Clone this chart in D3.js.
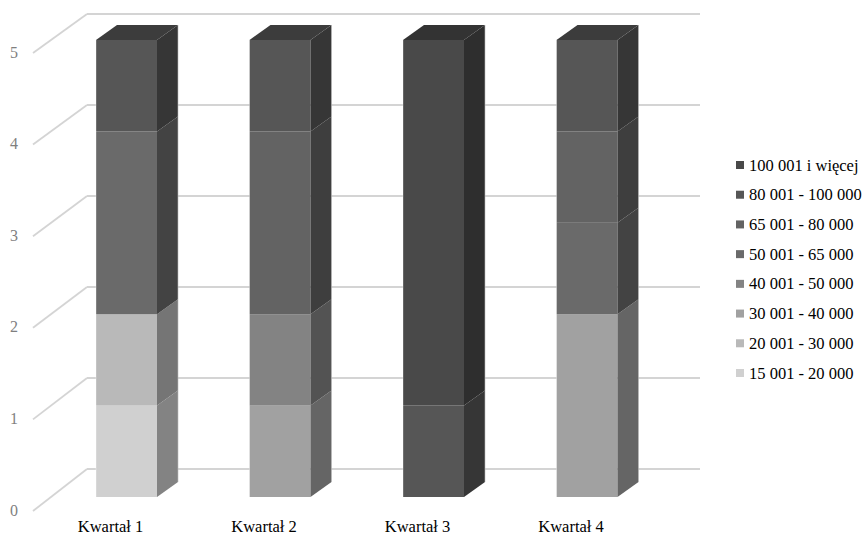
<!DOCTYPE html>
<html>
<head>
<meta charset="utf-8">
<script src="https://cdn.jsdelivr.net/npm/d3@7"></script>
<style>
  html, body { margin: 0; padding: 0; background: #fff; }
  svg { display: block; }
</style>
</head>
<body>
<svg id="chart" width="868" height="538"></svg>
<script>
// ---- data ----
const categories = ["Kwartał 1", "Kwartał 2", "Kwartał 3", "Kwartał 4"];
const seriesNames = ["15 001 - 20 000", "20 001 - 30 000", "30 001 - 40 000", "40 001 - 50 000",
                     "50 001 - 65 000", "65 001 - 80 000", "80 001 - 100 000", "100 001 i więcej"];
const s15 = [1, 0, 0, 0];
const s20 = [1, 0, 0, 0];
const s30 = [0, 1, 0, 2];
const s40 = [0, 1, 0, 0];
const s50 = [2, 0, 0, 1];
const s65 = [0, 2, 0, 1];
const s80 = [1, 1, 1, 1];
const s100 = [0, 0, 4, 0];
const seriesColors = ["#d0d0d0", "#b9b9b9", "#a1a1a1", "#838383", "#6a6a6a", "#636363", "#565656", "#494949"];
const yTicks = [0, 1, 2, 3, 4, 5];

const FONT = '"Liberation Serif", "Times New Roman", Tinos, serif';

const seriesValues = [s15, s20, s30, s40, s50, s65, s80, s100];
const rows = categories.map((c, i) => {
  const r = { cat: c };
  seriesNames.forEach((s, j) => r[s] = seriesValues[j][i]);
  return r;
});

const svg = d3.select("#chart");

// ---- scales ----
const x = d3.scaleBand().domain(categories).range([49.75, 663.75]).paddingInner(0.6026).paddingOuter(0.3013);
const yBar = d3.scaleLinear().domain([0, 5]).range([497, 40]);
const yBack = d3.scaleLinear().domain([0, 5]).range([469, 14]);
const yFront = d3.scaleLinear().domain([0, 5]).range([511, 53]);
const depthX = 21, depthY = 15;
const wallX0 = 33, wallX1 = 87, wallRight = 700;

// ---- gridlines (back wall + left side wall) ----
const grid = svg.append("g");
yTicks.forEach(t => {
  grid.append("line")
    .attr("x1", wallX1).attr("x2", wallRight)
    .attr("y1", yBack(t)).attr("y2", yBack(t))
    .attr("stroke", "#d4d4d4").attr("stroke-width", 1.8);
  grid.append("line")
    .attr("x1", wallX0).attr("y1", yFront(t))
    .attr("x2", wallX1).attr("y2", yBack(t))
    .attr("stroke", "#d4d4d4").attr("stroke-width", 1.8);
});

// ---- y tick labels ----
svg.append("g").selectAll("text").data(yTicks).join("text")
  .attr("x", 14).attr("y", d => yFront(d) - 1)
  .attr("text-anchor", "middle").attr("dominant-baseline", "central")
  .style("font-family", FONT).style("font-size", "16px").attr("fill", "#7f7f7f")
  .text(d => d);

// ---- stacked 3D bars ----
const stack = d3.stack().keys(seriesNames)(rows);
const shade = (c, k) => { const h = d3.color(c); return d3.rgb(h.r * k, h.g * k, h.b * k).formatHex(); };

const barsG = svg.append("g");
categories.forEach((cat, ci) => {
  const xl = x(cat), xr = x(cat) + x.bandwidth();
  let topSeg = null;
  stack.forEach((layer, si) => {
    const [v0, v1] = layer[ci];
    if (v1 - v0 <= 0) return;
    const col = seriesColors[si];
    const y0 = yBar(v0), y1 = yBar(v1);
    barsG.append("rect")
      .attr("x", xl).attr("y", y1).attr("width", xr - xl).attr("height", y0 - y1)
      .attr("fill", col);
    barsG.append("path")
      .attr("d", `M${xr},${y1}L${xr + depthX},${y1 - depthY}L${xr + depthX},${y0 - depthY}L${xr},${y0}Z`)
      .attr("fill", shade(col, 0.63));
    topSeg = { col, y1 };
  });
  if (topSeg) {
    barsG.append("path")
      .attr("d", `M${xl},${topSeg.y1}L${xl + depthX},${topSeg.y1 - depthY}L${xr + depthX},${topSeg.y1 - depthY}L${xr},${topSeg.y1}Z`)
      .attr("fill", shade(topSeg.col, 0.7));
  }
  const top = yBar(d3.sum(seriesValues, s => s[ci]));
  barsG.append("line").attr("x1", xl).attr("x2", xl).attr("y1", top).attr("y2", yBar(0))
    .attr("stroke", "#ffffff").attr("stroke-opacity", 0.35).attr("stroke-width", 1);
  barsG.append("line").attr("x1", xr + depthX).attr("x2", xr + depthX).attr("y1", top - depthY).attr("y2", yBar(0) - depthY)
    .attr("stroke", "#bbbbbb").attr("stroke-opacity", 0.6).attr("stroke-width", 1);
});

// ---- category labels ----
svg.append("g").selectAll("text").data(categories).join("text")
  .attr("x", d => x(d) + x.bandwidth() / 2 - 16).attr("y", 526)
  .attr("text-anchor", "middle").attr("dominant-baseline", "central")
  .style("font-family", FONT).style("font-size", "16.5px").attr("fill", "#000")
  .text(d => d);

// ---- legend ----
const legendOrder = seriesNames.map((n, i) => ({ n, c: seriesColors[i] })).reverse();
const lg = svg.append("g");
const ly = d3.scalePoint().domain(legendOrder.map(d => d.n)).range([165, 373]);
legendOrder.forEach(d => {
  lg.append("rect").attr("x", 736).attr("y", ly(d.n) - 4).attr("width", 8).attr("height", 8).attr("fill", d.c);
  lg.append("text").attr("x", 749).attr("y", ly(d.n))
    .attr("dominant-baseline", "central")
    .style("font-family", FONT).style("font-size", "16.5px").attr("fill", "#000")
    .text(d.n);
});
</script>
</body>
</html>
